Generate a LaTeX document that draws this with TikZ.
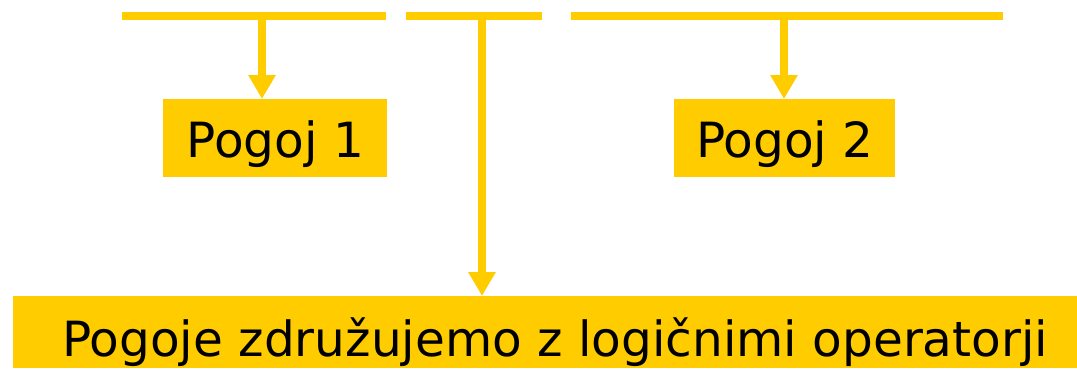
\documentclass[tikz,border=0pt]{standalone}
\usepackage{fontspec}
\setmainfont{DejaVu Sans}
\usetikzlibrary{arrows.meta}
\definecolor{gold}{HTML}{FFCC00}
\begin{document}
\begin{tikzpicture}[x=1pt,y=-1pt,
  bar/.style={draw=gold, line width=8pt},
  conn/.style={draw=gold, line width=8pt, -{Triangle[width=26pt,length=24pt]}},
  box/.style={fill=gold, inner sep=0pt, text depth=0pt, anchor=north west, font=\fontsize{48.5}{58}\selectfont},
]
\useasboundingbox (0,0) rectangle (1077,368);
\node[box, minimum width=224pt, minimum height=78pt, text height=38pt] (p1) at (163,99) {Pogoj 1};
\node[box, minimum width=221pt, minimum height=78pt, text height=38pt] (p2) at (674,99) {Pogoj 2};
\node[box, minimum width=1064pt, minimum height=72pt, text height=48pt] (p3) at (13,296) {\hspace*{20pt}Pogoje združujemo z logičnimi operatorji};
\coordinate (a1) at (122,16); \coordinate (b1) at (386,16);
\coordinate (a2) at (406,16); \coordinate (b2) at (542,16);
\coordinate (a3) at (571,16); \coordinate (b3) at (1003,16);
\draw[bar] (a1) -- (b1);
\draw[bar] (a2) -- (b2);
\draw[bar] (a3) -- (b3);
\coordinate (t1) at (262,16);
\coordinate (t2) at (482,16);
\coordinate (t3) at (784,16);
\draw[conn] (t1) -- (t1 |- p1.north);
\draw[conn] (t2) -- (t2 |- p3.north);
\draw[conn] (t3) -- (t3 |- p2.north);
\end{tikzpicture}
\end{document}
